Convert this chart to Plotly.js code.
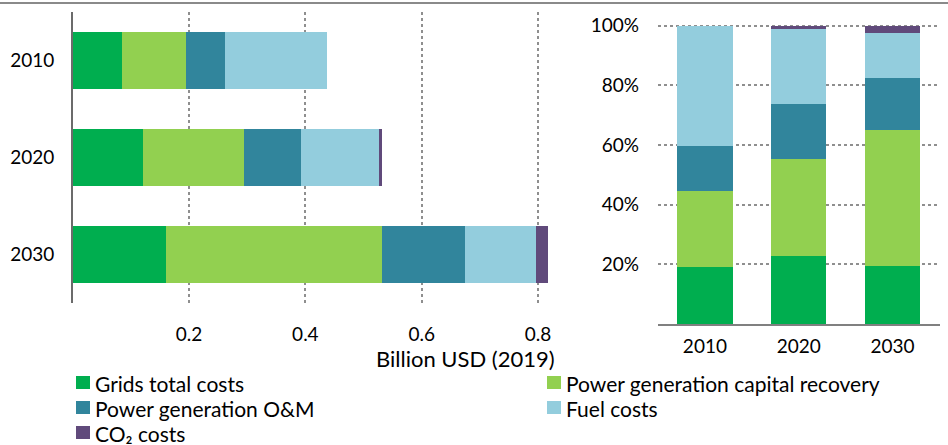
<!DOCTYPE html>
<html>
<head>
<meta charset="utf-8">
<script src="https://cdn.plot.ly/plotly-3.0.1.min.js"></script>
<style>html,body{margin:0;padding:0;background:#fff;}#chart{width:948px;height:445px;}</style>
</head>
<body>
<div id="chart"></div>
<script>
// ---- data (billion USD 2019) ----
const years = ['2010', '2020', '2030'];
const seriesNames = ['Grids total costs', 'Power generation capital recovery', 'Power generation O&M', 'Fuel costs', 'CO₂ costs'];
const grids   = [0.084, 0.121, 0.160];
const capital = [0.111, 0.1735, 0.372];
const om      = [0.067, 0.0985, 0.1425];
const fuel    = [0.176, 0.1335, 0.1215];
const co2     = [0.000, 0.0055, 0.021];
const absTicks = [0.2, 0.4, 0.6, 0.8];
const absTickText = ['0.2', '0.4', '0.6', '0.8'];
const pctTicks = [20, 40, 60, 80, 100];
const pctTickText = ['20%', '40%', '60%', '80%', '100%'];
const xTitle = 'Billion USD (2019)';

const colors = ['#00AE4F', '#92D050', '#31859C', '#93CDDD', '#604A7B'];
const series = [grids, capital, om, fuel, co2];
const totals = years.map((_, i) => series.reduce((s, arr) => s + arr[i], 0));

const W = 948, H = 445;
const px = v => v / W;
const py = v => (H - v) / H;
const font = 'Lato, "Liberation Sans", Arial, sans-serif';

const traces = [];
series.forEach((vals, k) => {
  traces.push({
    type: 'bar', orientation: 'h', name: seriesNames[k],
    y: years, x: vals, xaxis: 'x', yaxis: 'y',
    marker: {color: colors[k]}, hoverinfo: 'skip', showlegend: false
  });
});
series.forEach((vals, k) => {
  traces.push({
    type: 'bar', name: seriesNames[k], showlegend: false,
    x: years, y: vals.map((v, i) => v / totals[i] * 100), xaxis: 'x2', yaxis: 'y2',
    marker: {color: colors[k]}, hoverinfo: 'skip'
  });
});

// legend (two columns, drawn as shapes + annotations)
const legendCols = [76, 547];
const legendRows = [383, 408, 433];
const shapes = [{
  type: 'line', xref: 'paper', yref: 'paper', x0: 0, x1: 1, y0: py(3), y1: py(3),
  line: {color: '#8a8a8a', width: 2}
}];
const annotations = [{
  text: xTitle, xref: 'paper', yref: 'paper', x: px(557), y: py(358),
  xanchor: 'right', yanchor: 'middle', showarrow: false,
  font: {family: font, size: 22, color: '#000'}
}];
seriesNames.forEach((name, k) => {
  const cx = legendCols[k % 2], cy = legendRows[Math.floor(k / 2)];
  shapes.push({
    type: 'rect', xref: 'paper', yref: 'paper',
    x0: px(cx), x1: px(cx + 14), y0: py(cy + 6), y1: py(cy - 7),
    fillcolor: colors[k], line: {width: 0}
  });
  annotations.push({
    text: name, xref: 'paper', yref: 'paper', x: px(cx + 17), y: py(cy),
    xanchor: 'left', yanchor: 'middle', showarrow: false,
    font: {family: font, size: 21, color: '#000'}
  });
});

const layout = {
  width: W, height: H,
  margin: {l: 0, r: 0, t: 0, b: 0},
  paper_bgcolor: '#fff', plot_bgcolor: 'rgba(0,0,0,0)',
  barmode: 'stack', bargap: 0.412,
  font: {family: font, size: 19, color: '#000'},
  showlegend: false,
  xaxis: {
    domain: [px(72.7), px(549.7)], range: [0, 0.82], anchor: 'y',
    tickvals: absTicks, ticktext: absTickText, ticks: '', ticklabelstandoff: 18,
    showgrid: true, gridcolor: '#8f8f8f', griddash: 'dot', gridwidth: 2,
    zeroline: false, showline: false, fixedrange: true
  },
  yaxis: {
    domain: [py(302.8), py(12)], range: [2.5, -0.5], anchor: 'x',
    type: 'category', ticks: '', ticklabelstandoff: 13,
    showgrid: false, zeroline: false,
    showline: true, linecolor: '#6b6b6b', linewidth: 1.5, fixedrange: true
  },
  xaxis2: {
    domain: [px(658), px(939.5)], range: [-0.5, 2.5], anchor: 'y2',
    type: 'category', ticks: '', ticklabelstandoff: 4,
    showgrid: false, zeroline: false,
    showline: true, linecolor: '#808080', linewidth: 2, fixedrange: true
  },
  yaxis2: {
    domain: [py(324), py(24.5)], range: [0, 100.4], anchor: 'x2',
    tickvals: pctTicks, ticktext: pctTickText, ticks: '', ticklabelstandoff: 18,
    showgrid: true, gridcolor: '#8f8f8f', griddash: 'dot', gridwidth: 2,
    zeroline: false, showline: false, fixedrange: true
  },
  annotations: annotations,
  shapes: shapes
};

Plotly.newPlot('chart', traces, layout, {displayModeBar: false, staticPlot: true});
</script>
</body>
</html>
